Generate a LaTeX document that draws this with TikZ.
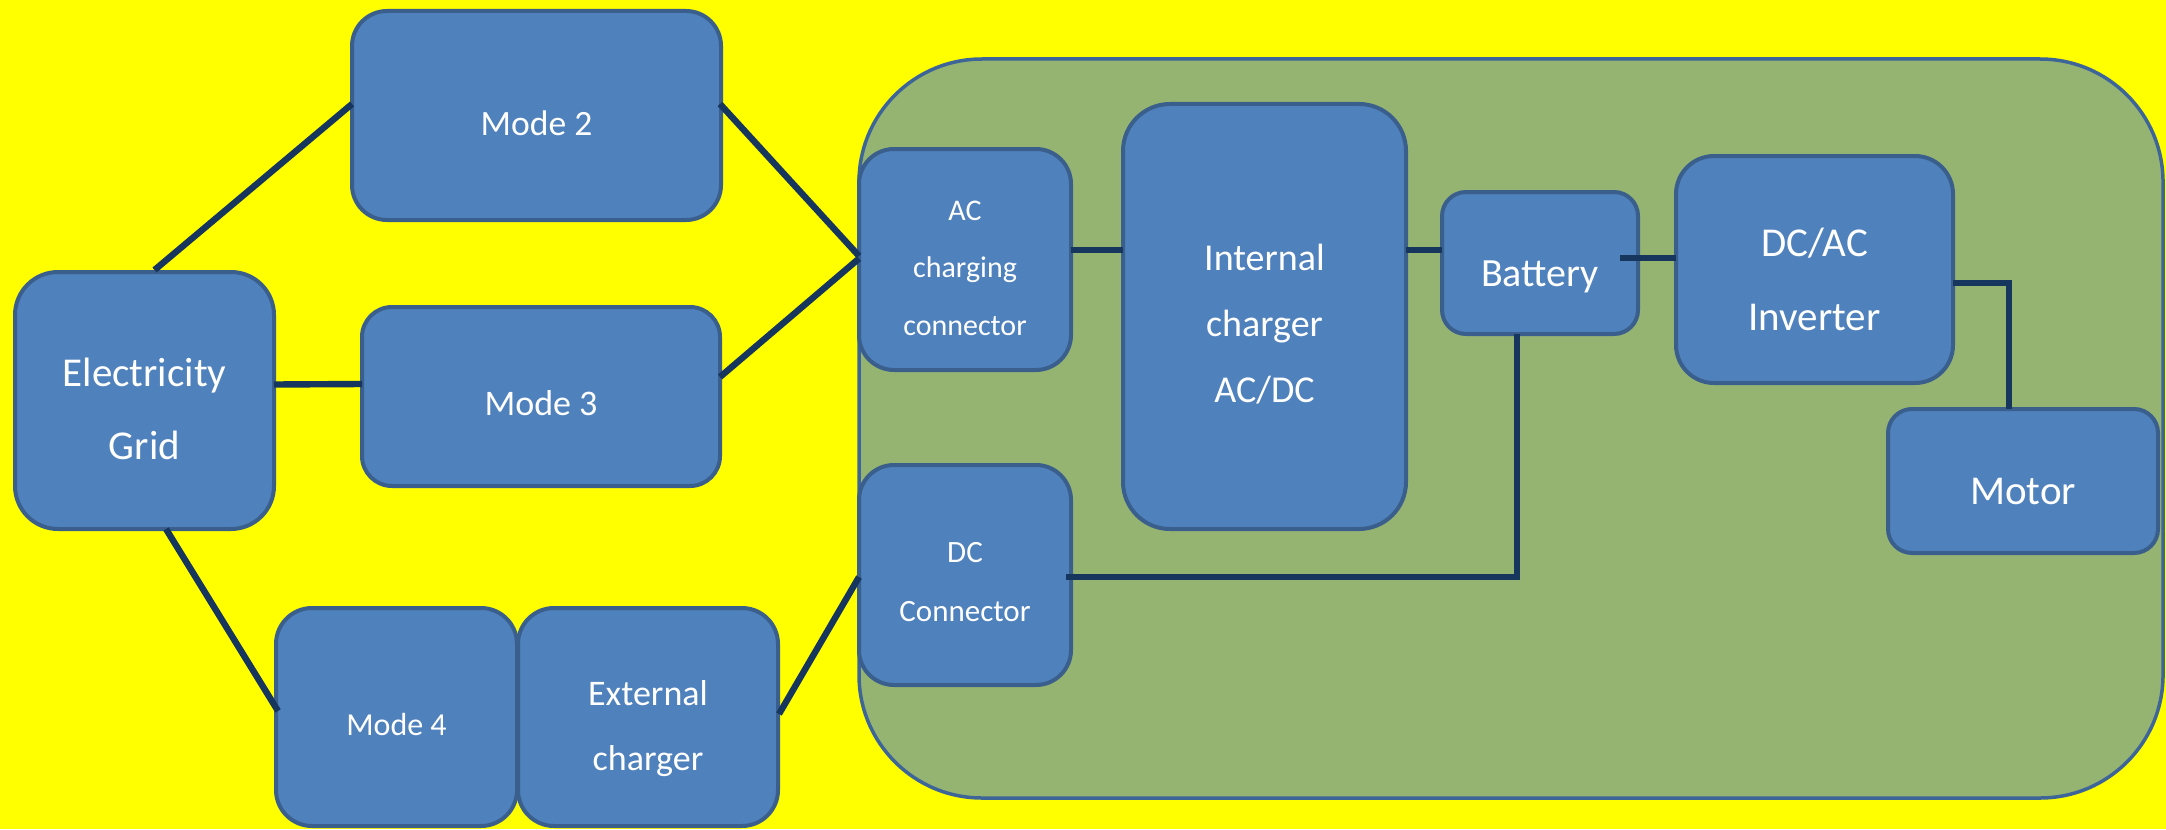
\documentclass[tikz,border=0pt]{standalone}
\usepackage{fontspec}
\setmainfont{Carlito}
\usetikzlibrary{calc}
\definecolor{bgyellow}{HTML}{FFFF00}
\definecolor{boxfill}{HTML}{4F81BD}
\definecolor{boxline}{HTML}{3A5F8C}
\definecolor{evfill}{HTML}{96B471}
\definecolor{evline}{HTML}{3D6598}
\definecolor{wire}{HTML}{17365D}
\begin{document}
\begin{tikzpicture}[x=0.5pt,y=-0.5pt,
  blk/.style={draw=boxline, fill=boxfill, line width=2pt, inner sep=0pt, outer sep=0pt},
  evbox/.style={draw=evline, fill=evfill, line width=1.75pt, inner sep=0pt, outer sep=0pt},
  lbl/.style={text=white, align=center, inner sep=0pt},
  conn/.style={draw=wire, line width=3.2pt}]
\fill[bgyellow] (0,0) rectangle (2166,829);
\useasboundingbox (0,0) rectangle (2166,829);

% vehicle area
\node[evbox, minimum width=652pt, minimum height=369.5pt, rounded corners=61.5pt] (ev) at (1511,428.5) {};

% boxes
\node[blk, minimum width=129.5pt, minimum height=128.5pt, rounded corners=21.5pt] (grid) at (144.5,400.5) {};
\node[blk, minimum width=184.5pt, minimum height=104.5pt, rounded corners=17.5pt] (mode2) at (536.5,115.5) {};
\node[blk, minimum width=179pt, minimum height=89.5pt, rounded corners=15pt] (mode3) at (541,396.5) {};
\node[blk, minimum width=120.5pt, minimum height=109pt, rounded corners=18pt] (mode4) at (396.5,717) {};
\node[blk, minimum width=130pt, minimum height=109pt, rounded corners=18pt] (ext) at (648,717) {};
\node[blk, minimum width=106pt, minimum height=110.5pt, rounded corners=17.5pt] (acc) at (965,259.5) {};
\node[blk, minimum width=106pt, minimum height=110pt, rounded corners=17.5pt] (dcc) at (965,575) {};
\node[blk, minimum width=141.5pt, minimum height=212.5pt, rounded corners=23.5pt] (intch) at (1264.5,316.5) {};
\node[blk, minimum width=98pt, minimum height=71pt, rounded corners=12pt] (batt) at (1540,263) {};
\node[blk, minimum width=138.5pt, minimum height=113.5pt, rounded corners=19pt] (inv) at (1814.5,269.5) {};
\node[blk, minimum width=135pt, minimum height=72pt, rounded corners=12pt] (motor) at (2023,481) {};

% labels
\node[lbl, font=\fontsize{20.5}{36.5}\selectfont] (grid-t) at ($(grid.center)+(0,8.2)$) {Electricity\strut\\Grid\strut};
\node[lbl, font=\fontsize{17.8}{21.4}\selectfont] (mode2-t) at ($(mode2.center)+(0,11.7)$) {Mode 2\strut};
\node[lbl, font=\fontsize{18}{21.6}\selectfont] (mode3-t) at ($(mode3.center)+(0,10.6)$) {Mode 3\strut};
\node[lbl, font=\fontsize{16}{19.2}\selectfont] (mode4-t) at ($(mode4.center)+(0,11)$) {Mode 4\strut};
\node[lbl, font=\fontsize{18}{32.5}\selectfont] (ext-t) at ($(ext.center)+(0,7.5)$) {External\strut\\charger\strut};
\node[lbl, font=\fontsize{15}{28.75}\selectfont] (acc-t) at ($(acc.center)+(0,6.5)$) {AC\strut\\charging\strut\\connector\strut};
\node[lbl, font=\fontsize{15.5}{29.5}\selectfont] (dcc-t) at ($(dcc.center)+(0,5.2)$) {DC\strut\\Connector\strut};
\node[lbl, font=\fontsize{19}{33}\selectfont] (intch-t) at ($(intch.center)+(0,6.8)$) {Internal\strut\\charger\strut\\AC/DC\strut};
\node[lbl, font=\fontsize{20}{24}\selectfont] (batt-t) at ($(batt.center)+(0,14.1)$) {Battery\strut};
\node[lbl, font=\fontsize{20.5}{37}\selectfont] (inv-t) at ($(inv.center)+(0,8.7)$) {DC/AC\strut\\Inverter\strut};
\node[lbl, font=\fontsize{20.5}{24.6}\selectfont] (motor-t) at ($(motor.center)+(0,13.2)$) {Motor\strut};

% connectors
\draw[conn] ($(grid.north)+(10,-2)$) -- ($(mode2.west)+(0,-11.5)$);
\draw[conn] ($(grid.east)+(0,-16)$) -- ($(mode3.west)+(0,-12.5)$);
\draw[conn] ($(grid.south)+(21.5,0)$) -- ($(mode4.west)+(2,-6)$);
\draw[conn] ($(mode2.east)+(-1,-11.5)$) -- ($(acc.west)+(0,-3.5)$);
\draw[conn] ($(mode3.east)+(0,-19.5)$) -- ($(acc.west)+(0,-1)$);
\draw[conn] ($(ext.east)+(1,-3)$) -- ($(dcc.west)+(0,2)$);
\draw[conn] ($(acc.east)+(0,-9.5)$) -- ($(intch.west)+(0,-66.5)$);
\draw[conn] ($(intch.east)+(0,-66.5)$) -- ($(batt.west)+(0,-13)$);
\draw[conn] ($(batt.east)+(-18,-5)$) -- ($(inv.west)+(0,-11.5)$);
\draw[conn] ($(batt.south)+(-23,0)$) |- ($(dcc.east)+(-5,2)$);
\draw[conn] ($(inv.east)+(0,13.5)$) -| ($(motor.north)+(-14,0)$);
\end{tikzpicture}
\end{document}
